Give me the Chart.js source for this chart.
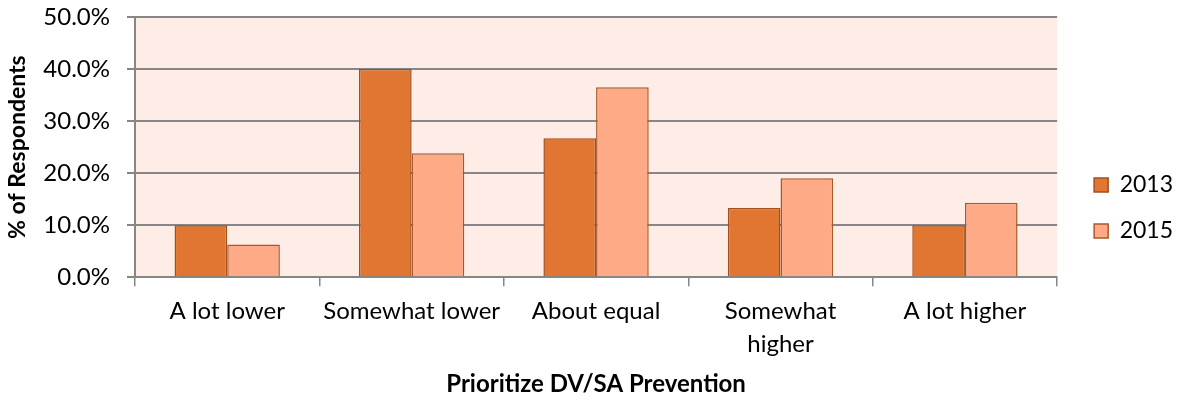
<!DOCTYPE html>
<html>
<head>
<meta charset="utf-8">
<script src="https://cdn.jsdelivr.net/npm/chart.js@4.4.1/dist/chart.umd.min.js"></script>
<style>
  html, body { margin: 0; padding: 0; background: #ffffff; }
  #wrap { width: 1183px; height: 400px; position: relative; }
</style>
</head>
<body>
<div id="wrap"><canvas id="c"></canvas></div>
<script>
// Survey responses: priority given to DV/SA prevention
const categories = ['A lot lower', 'Somewhat lower', 'About equal', ['Somewhat', 'higher'], 'A lot higher'];
const values2013 = [10.0, 40.0, 26.7, 13.3, 10.0];
const values2015 = [6.3, 23.8, 36.5, 19.0, 14.3];
const seriesNames = ['2013', '2015'];
const yTicks = [0, 10, 20, 30, 40, 50];

const FONT = 'Lato, "Liberation Sans", sans-serif';

// Shade the plotting region behind the bars
const plotBackground = {
  id: 'plotBackground',
  beforeDraw(chart) {
    const { ctx, chartArea: a } = chart;
    ctx.save();
    ctx.fillStyle = '#FEEDE6';
    ctx.fillRect(a.left, a.top, a.right - a.left, a.bottom - a.top);
    ctx.restore();
  }
};

new Chart(document.getElementById('c'), {
  type: 'bar',
  data: {
    labels: categories,
    datasets: [
      {
        label: seriesNames[0],
        data: values2013,
        backgroundColor: '#E07631',
        borderColor: '#A24F1C',
        borderWidth: 1.5
      },
      {
        label: seriesNames[1],
        data: values2015,
        backgroundColor: '#FEAA86',
        borderColor: '#A9582A',
        borderWidth: 1.5
      }
    ]
  },
  options: {
    responsive: true,
    maintainAspectRatio: false,
    animation: false,
    layout: { padding: { top: 17, right: 0, left: 4, bottom: 1 } },
    datasets: { bar: { categoryPercentage: 0.571, barPercentage: 1.0 } },
    plugins: {
      legend: {
        position: 'right',
        labels: {
          font: { family: FONT, size: 23 },
          color: '#000000',
          boxWidth: 14,
          boxHeight: 14,
          padding: 23
        }
      },
      tooltip: { enabled: false }
    },
    scales: {
      x: {
        grid: {
          display: true,
          drawOnChartArea: false,
          offset: true,
          tickLength: 9,
          color: '#868686',
          lineWidth: 1.5
        },
        border: { display: true, color: '#868686', width: 2 },
        ticks: {
          font: { family: FONT, size: 24, lineHeight: 1.375 },
          color: '#000000',
          maxRotation: 0,
          autoSkip: false,
          padding: 9
        },
        title: {
          display: true,
          text: 'Prioritize DV/SA Prevention',
          font: { family: FONT, size: 24, weight: 'bold' },
          color: '#000000',
          padding: { top: 0, bottom: 0 }
        }
      },
      y: {
        min: 0,
        max: 50,
        afterBuildTicks(axis) { axis.ticks = yTicks.map(v => ({ value: v })); },
        afterFit(axis) {
          axis.width = 131;
          axis.paddingTop = 0;
          axis.paddingBottom = 0;
        },
        grid: {
          color: '#868686',
          lineWidth: 2,
          tickLength: 8
        },
        border: { display: true, color: '#868686', width: 2 },
        ticks: {
          font: { family: FONT, size: 24 },
          color: '#000000',
          padding: 17,
          callback: v => v.toFixed(1) + '%'
        },
        title: {
          display: true,
          text: '% of Respondents',
          font: { family: FONT, size: 23, weight: 'bold' },
          color: '#000000',
          padding: { top: 0, bottom: 11 }
        }
      },
      // empty spacer between the plot and the legend
      gap: {
        type: 'linear',
        position: 'right',
        display: true,
        grid: { display: false },
        border: { display: false },
        ticks: { display: false },
        afterFit(axis) { axis.width = 14; }
      }
    }
  },
  plugins: [plotBackground]
});
</script>
</body>
</html>
